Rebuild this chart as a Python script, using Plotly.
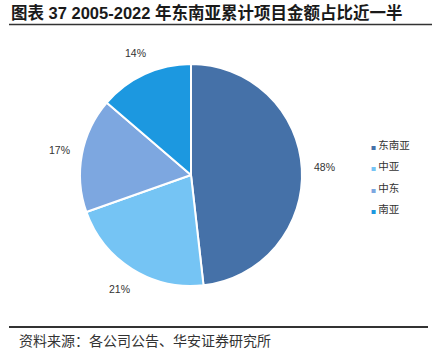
import math
import plotly.graph_objects as go

categories = ["东南亚", "中亚", "中东", "南亚"]
values = [48.2, 21.4, 16.7, 13.7]
colors = ["#4571A8", "#75C4F4", "#7DA7E0", "#1C98E0"]
title_text = "图表 37 2005-2022 年东南亚累计项目金额占比近一半"
source_text = "资料来源：各公司公告、华安证券研究所"

W, H = 432, 363
cx, cy, R = 191.0, 175.0, 111.0  # pixel geometry of the pie

FONT = "Liberation Sans, Arial, Noto Sans CJK SC"
CJK = "Noto Sans CJK SC, Liberation Sans"

fig = go.Figure()
fig.add_trace(go.Pie(
    labels=categories, values=values, sort=False, direction="clockwise",
    rotation=0, marker=dict(colors=colors, line=dict(color="white", width=2)),
    textinfo="none", hoverinfo="label+percent", showlegend=False,
    domain=dict(x=[(cx - R) / W, (cx + R) / W], y=[(H - cy - R) / H, (H - cy + R) / H]),
))

annotations = []
# percentage labels placed outside each slice along its mid angle
total = sum(values)
cum = 0.0
for v in values:
    mid = (cum + v / 2) / total * 2 * math.pi
    cum += v
    d = R + 23
    px = cx + d * math.sin(mid)
    py = cy - d * math.cos(mid)
    annotations.append(dict(
        x=px / W, y=1 - py / H, xref="paper", yref="paper",
        text=f"{round(v / total * 100)}%", showarrow=False,
        font=dict(family=FONT, size=10.5, color="#333333"),
        xanchor="center", yanchor="middle"))

# legend
lx, ly0, lstep = 369, 145, 21
for i, (name, c) in enumerate(zip(categories, colors)):
    annotations.append(dict(
        x=lx / W, y=1 - (ly0 + i * lstep) / H, xref="paper", yref="paper",
        text=f"<span style='color:{c};font-size:5px'>■</span> {name}",
        showarrow=False, font=dict(family=CJK, size=10.5, color="#333333"),
        xanchor="left", yanchor="middle"))

annotations.append(dict(
    x=9 / W, y=1 - 12 / H, xref="paper", yref="paper", text=f"<b>{title_text}</b>",
    showarrow=False, font=dict(family=FONT, size=16.5, color="#1a1a1a"),
    xanchor="left", yanchor="middle"))
annotations.append(dict(
    x=17 / W, y=1 - 340 / H, xref="paper", yref="paper", text=source_text,
    showarrow=False, font=dict(family=CJK, size=14, color="#333333"),
    xanchor="left", yanchor="middle"))

shapes = [
    dict(type="line", xref="paper", yref="paper", x0=9 / W, x1=1, y0=1 - 24.5 / H, y1=1 - 24.5 / H,
         line=dict(color="#333333", width=1.5)),
    dict(type="line", xref="paper", yref="paper", x0=9 / W, x1=428 / W, y0=1 - 327 / H, y1=1 - 327 / H,
         line=dict(color="#333333", width=2)),
]

fig.update_layout(
    width=W, height=H, margin=dict(l=0, r=0, t=0, b=0),
    paper_bgcolor="white", plot_bgcolor="white",
    annotations=annotations, shapes=shapes, showlegend=False,
)
fig.write_html("out.html", config={"displayModeBar": False},
               post_script="document.body.style.margin='0';document.body.style.padding='0';")
